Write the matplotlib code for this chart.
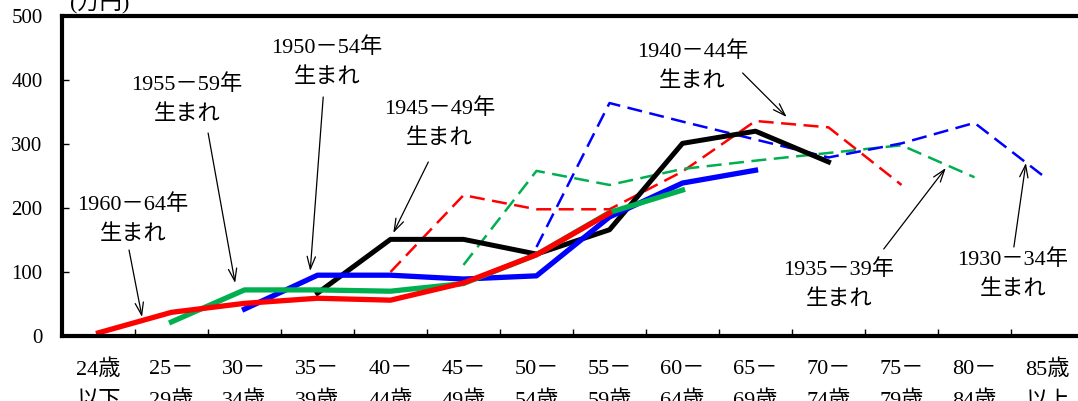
import matplotlib
matplotlib.use("Agg")
import matplotlib.pyplot as plt
from matplotlib.ticker import FixedLocator

FAM = ['Liberation Serif', 'Noto Sans CJK JP']
plt.rcParams['font.family'] = FAM

# ---- data ----
age_labels = ['24歳\n以下', '25－\n29歳', '30－\n34歳', '35－\n39歳', '40－\n44歳',
              '45－\n49歳', '50－\n54歳', '55－\n59歳', '60－\n64歳', '65－\n69歳',
              '70－\n74歳', '75－\n79歳', '80－\n84歳', '85歳\n以上']

# cohort: (first age-class index, values in 万円)
c1960_start, c1960 = 0, [5, 37, 51, 59, 56, 83, 127, 192]
c1955_start, c1955 = 1, [22, 72, 72, 70, 82, 127, 193, 228]
c1950_start, c1950 = 2, [42, 95, 95, 89, 94, 186, 239, 259]
c1945_start, c1945 = 3, [67, 151, 151, 128, 166, 301, 320, 272]
c1940_start, c1940 = 4, [100, 220, 198, 198, 257, 336, 326, 236]
c1935_start, c1935 = 5, [111, 258, 236, 261, 274, 286, 298, 248]
c1930_start, c1930 = 6, [139, 364, 335, 307, 279, 301, 333, 245]

yticks = [0, 100, 200, 300, 400, 500]

W, H = 1078, 401
fig = plt.figure(figsize=(W / 100, H / 100), dpi=100)
L, R, T, B = 62, 1084, 16, 336
ax = fig.add_axes([L / W, 1 - B / H, (R - L) / W, (B - T) / H])

def xs(start, vals):
    return list(range(start, start + len(vals)))

dash = (0, (6, 3))
ax.plot(xs(c1940_start, c1940), c1940, color='#FF0000', lw=1.8, ls=dash)
ax.plot(xs(c1935_start, c1935), c1935, color='#00B050', lw=1.8, ls=dash)
ax.plot(xs(c1930_start, c1930), c1930, color='#0000FF', lw=1.8, ls=dash)

ax.plot(xs(c1945_start, c1945), c1945, color='#000000', lw=3.6)
ax.plot(xs(c1950_start, c1950), c1950, color='#0000FF', lw=3.8)
ax.plot(xs(c1955_start, c1955), c1955, color='#00B050', lw=3.8)
ax.plot(xs(c1960_start, c1960), c1960, color='#FF0000', lw=3.8)

ax.set_xlim(-0.5, len(age_labels) - 0.5)
ax.set_ylim(0, 500)

for s in ['left', 'bottom', 'top']:
    ax.spines[s].set_linewidth(3.0)
ax.spines['right'].set_visible(False)

ax.set_yticks(yticks)
ax.set_yticklabels([str(v) for v in yticks])
ax.set_xticks(range(len(age_labels)))
ax.set_xticklabels(age_labels, linespacing=1.75)
ax.xaxis.set_minor_locator(FixedLocator([i + 0.5 for i in range(len(age_labels) - 1)]))
ax.tick_params(axis='x', which='major', length=0, pad=17, labelsize=16)
ax.tick_params(axis='x', which='minor', direction='in', length=5, width=1)
ax.tick_params(axis='y', direction='in', length=5, width=1, pad=14, labelsize=15)
for lab in ax.get_xticklabels():
    lab.set_verticalalignment('top')

fig.text(70 / W, 1 - 8 / H, '(万円)', fontsize=16, va='baseline', ha='left')

def p2d(px, py):
    return ((px - 98.5) / 72.93, (B - py) / 0.64)

notes = [
    ('1960－64年\n生まれ', (133, 220), (129, 250), (142, 317)),
    ('1955－59年\n生まれ', (187, 100), (208, 133), (235, 283)),
    ('1950－54年\n生まれ', (327, 63), (323, 97), (310, 271)),
    ('1945－49年\n生まれ', (439, 124), (428, 162), (393, 233)),
    ('1940－44年\n生まれ', (692, 67), (742, 73), (786, 117)),
    ('1935－39年\n生まれ', (838, 285), (883, 249), (945, 168)),
    ('1930－34年\n生まれ', (1012, 275), (1013, 247), (1025, 163)),
]
for txt, c, s, t in notes:
    ax.text(*p2d(*c), txt, ha='center', va='center', fontsize=16,
            linespacing=1.7, clip_on=False)
    ax.annotate('', xy=p2d(*t), xytext=p2d(*s),
                arrowprops=dict(arrowstyle='->,head_length=0.9,head_width=0.3',
                                lw=0.9, color='black', shrinkA=0, shrinkB=0))

fig.savefig('out.png', dpi=100)
